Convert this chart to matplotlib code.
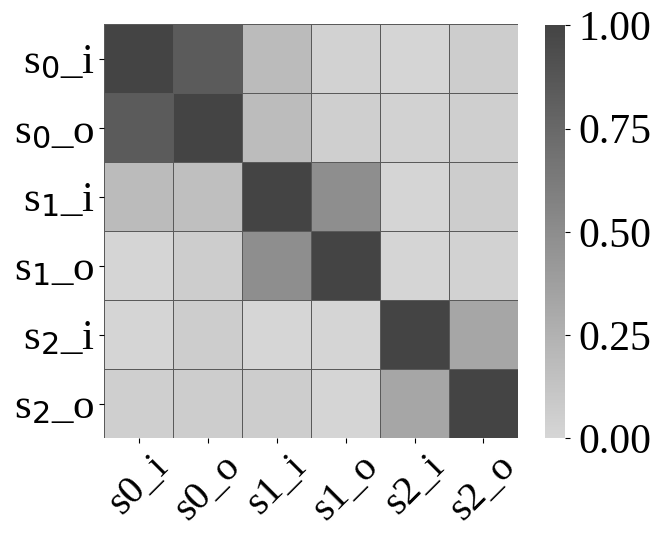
import numpy as np
import matplotlib.pyplot as plt
from matplotlib.colors import LinearSegmentedColormap

plt.rcParams['font.family'] = ['Liberation Serif', 'DejaVu Sans']
plt.rcParams['mathtext.fontset'] = 'custom'
plt.rcParams['mathtext.rm'] = 'Liberation Serif'
plt.rcParams['mathtext.it'] = 'Liberation Serif:italic'
plt.rcParams['mathtext.sf'] = 'DejaVu Sans'

row_labels = [r"s$_\mathsf{0}$_i", r"s$_\mathsf{0}$_o", r"s$_\mathsf{1}$_i",
              r"s$_\mathsf{1}$_o", r"s$_\mathsf{2}$_i", r"s$_\mathsf{2}$_o"]
col_labels = ["s0_i", "s0_o", "s1_i", "s1_o", "s2_i", "s2_o"]

row_s0_i = [1.00, 0.84, 0.19, 0.03, 0.01, 0.06]
row_s0_o = [0.84, 1.00, 0.18, 0.05, 0.03, 0.05]
row_s1_i = [0.19, 0.16, 1.00, 0.49, 0.01, 0.06]
row_s1_o = [0.01, 0.06, 0.49, 1.00, 0.01, 0.03]
row_s2_i = [0.01, 0.06, 0.00, 0.01, 1.00, 0.33]
row_s2_o = [0.05, 0.06, 0.06, 0.01, 0.33, 1.00]

mat = np.array([row_s0_i, row_s0_o, row_s1_i, row_s1_o, row_s2_i, row_s2_o])

cmap = LinearSegmentedColormap.from_list("greys_soft", ["#d6d6d6", "#444444"])

fig = plt.figure(figsize=(6.64, 5.48), dpi=100)
ax = fig.add_axes([0.157, 0.2, 0.623, 0.756])
cax = fig.add_axes([0.821, 0.2, 0.03, 0.754])

mesh = ax.pcolormesh(mat, cmap=cmap, vmin=0, vmax=1,
                     edgecolors="#5a5a5a", linewidth=0.6)
ax.set_xlim(0, 6)
ax.set_ylim(6, 0)
ax.set_aspect("equal")
for s in ax.spines.values():
    s.set_visible(False)

ticks = np.arange(6) + 0.5
ax.set_xticks(ticks)
ax.set_yticks(ticks)
ax.set_xticklabels(col_labels, rotation=45, fontsize=29)
ax.set_yticklabels(row_labels, fontsize=31)

cb = fig.colorbar(mesh, cax=cax, ticks=[0, 0.25, 0.5, 0.75, 1.0])
cb.outline.set_visible(False)
cb.ax.tick_params(pad=6)
cb.ax.set_yticklabels(["0.00", "0.25", "0.50", "0.75", "1.00"], fontsize=30)

fig.savefig("out.png", dpi=100)
